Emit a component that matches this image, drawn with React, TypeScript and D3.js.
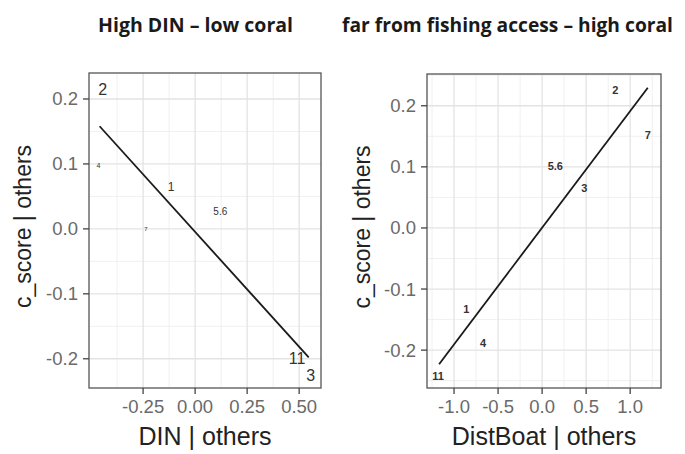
import React from "react";
import * as d3 from "d3";

// ---------- data ----------
const leftTitle = "High DIN \u2013 low coral";
const leftXLabel = "DIN | others";
const leftIds = ["2", "4", "1", "5.6", "7", "11", "3"];
const leftX = [-0.444, -0.464, -0.116, 0.121, -0.237, 0.49, 0.556];
const leftY = [0.214, 0.097, 0.065, 0.026, 0.0, -0.2, -0.225];
const leftLabelSize = [16, 7, 12, 10, 6, 16, 16];
const leftLineX = [-0.459, 0.546];
const leftLineY = [0.158, -0.198];
const leftXTicks = [-0.25, 0, 0.25, 0.5];
const leftXTickLabels = ["-0.25", "0.00", "0.25", "0.50"];
const leftXMinor = [-0.375, -0.125, 0.125, 0.375];
const leftYTicks = [-0.2, -0.1, 0, 0.1, 0.2];
const leftYTickLabels = ["-0.2", "-0.1", "0.0", "0.1", "0.2"];
const leftYMinor = [-0.15, -0.05, 0.05, 0.15];
const leftXDomain = [-0.51, 0.605];
const leftYDomain = [-0.245, 0.24];

const rightTitle = "far from fishing access \u2013 high coral";
const rightXLabel = "DistBoat | others";
const rightIds = ["2", "7", "5.6", "3", "1", "4", "11"];
const rightX = [0.83, 1.2, 0.15, 0.48, -0.86, -0.67, -1.18];
const rightY = [0.226, 0.152, 0.102, 0.066, -0.133, -0.189, -0.243];
const rightLabelSize = [11, 11, 11, 11, 11, 11, 11];
const rightLineX = [-1.17, 1.2];
const rightLineY = [-0.223, 0.2295];
const rightXTicks = [-1, -0.5, 0, 0.5, 1];
const rightXTickLabels = ["-1.0", "-0.5", "0.0", "0.5", "1.0"];
const rightXMinor = [-1.25, -0.75, -0.25, 0.25, 0.75, 1.25];
const rightYTicks = [-0.2, -0.1, 0, 0.1, 0.2];
const rightYTickLabels = ["-0.2", "-0.1", "0.0", "0.1", "0.2"];
const rightYMinor = [-0.25, -0.15, -0.05, 0.05, 0.15, 0.25];
const rightXDomain = [-1.307, 1.35];
const rightYDomain = [-0.262, 0.252];

const yLabel = "c_score | others";

type PanelProps = {
  left: number; right: number; top: number; bottom: number;
  title: string; titleX: number; titleW: number; xLabel: string;
  ids: string[]; xs: number[]; ys: number[]; sizes: number[];
  lineX: number[]; lineY: number[];
  xTicks: number[]; xTickLabels: string[]; xMinor: number[];
  yTicks: number[]; yTickLabels: string[]; yMinor: number[];
  xDomain: number[]; yDomain: number[]; yTitleX: number;
  labelWeight: number;
};

function Panel(p: PanelProps) {
  const x = d3.scaleLinear().domain(p.xDomain).range([p.left, p.right]);
  const y = d3.scaleLinear().domain(p.yDomain).range([p.bottom, p.top]);
  const line = d3.line<number>().x((d) => x(p.lineX[d])).y((d) => y(p.lineY[d]));
  const cx = (p.left + p.right) / 2;
  const cy = (p.top + p.bottom) / 2 - 4;
  const font = "Liberation Sans, Arial, sans-serif";
  return (
    <g>
      <text x={p.titleX} y={32} fontFamily="Open Sans, sans-serif" fontWeight={700} fontSize={19.5}
        textLength={p.titleW} lengthAdjust="spacingAndGlyphs" fill="#1a1a1a">{p.title}</text>
      <rect x={p.left} y={p.top} width={p.right - p.left} height={p.bottom - p.top} fill="#fff" />
      {p.xMinor.map((v, i) => (
        <line key={"xm" + i} x1={x(v)} x2={x(v)} y1={p.top} y2={p.bottom} stroke="#f0f0f0" strokeWidth={1} />
      ))}
      {p.yMinor.map((v, i) => (
        <line key={"ym" + i} y1={y(v)} y2={y(v)} x1={p.left} x2={p.right} stroke="#f0f0f0" strokeWidth={1} />
      ))}
      {p.xTicks.map((v, i) => (
        <line key={"xM" + i} x1={x(v)} x2={x(v)} y1={p.top} y2={p.bottom} stroke="#e3e3e3" strokeWidth={1.3} />
      ))}
      {p.yTicks.map((v, i) => (
        <line key={"yM" + i} y1={y(v)} y2={y(v)} x1={p.left} x2={p.right} stroke="#e3e3e3" strokeWidth={1.3} />
      ))}
      <path d={line([0, 1]) || ""} stroke="#1a1a1a" strokeWidth={1.8} fill="none" />
      {p.ids.map((id, i) => (
        <text key={"l" + i} x={x(p.xs[i])} y={y(p.ys[i])} textAnchor="middle" dominantBaseline="central"
          fontFamily={font} fontSize={p.sizes[i]} fontWeight={p.labelWeight} fill="#333">{id}</text>
      ))}
      <rect x={p.left} y={p.top} width={p.right - p.left} height={p.bottom - p.top} fill="none" stroke="#555" strokeWidth={1.3} />
      {p.xTicks.map((v, i) => (
        <g key={"xt" + i}>
          <line x1={x(v)} x2={x(v)} y1={p.bottom} y2={p.bottom + 6} stroke="#444" strokeWidth={1.3} />
          <text x={x(v)} y={p.bottom + 25} textAnchor="middle" fontFamily={font} fontSize={18.5} fill="#6a6a6a">{p.xTickLabels[i]}</text>
        </g>
      ))}
      {p.yTicks.map((v, i) => (
        <g key={"yt" + i}>
          <line x1={p.left - 6} x2={p.left} y1={y(v)} y2={y(v)} stroke="#444" strokeWidth={1.3} />
          <text x={p.left - 11} y={y(v)} textAnchor="end" dominantBaseline="central" fontFamily={font} fontSize={18.5} fill="#6a6a6a">{p.yTickLabels[i]}</text>
        </g>
      ))}
      <text x={cx} y={p.bottom + 57} textAnchor="middle" fontFamily={font} fontSize={25} fill="#222">{p.xLabel}</text>
      <text transform={`translate(${p.yTitleX},${cy}) rotate(-90)`} textAnchor="middle" dominantBaseline="central"
        fontFamily={font} fontSize={23} fill="#222">{yLabel}</text>
    </g>
  );
}

export default function App() {
  return (
    <svg width={685} height={454} style={{ position: "absolute", left: 0, top: 0, background: "#fff" }}>
      <rect x={0} y={0} width={685} height={454} fill="#fff" />
      <Panel left={89} right={321} top={73} bottom={388} title={leftTitle} titleX={98} titleW={195} xLabel={leftXLabel}
        ids={leftIds} xs={leftX} ys={leftY} sizes={leftLabelSize} lineX={leftLineX} lineY={leftLineY}
        xTicks={leftXTicks} xTickLabels={leftXTickLabels} xMinor={leftXMinor}
        yTicks={leftYTicks} yTickLabels={leftYTickLabels} yMinor={leftYMinor}
        xDomain={leftXDomain} yDomain={leftYDomain} yTitleX={23} labelWeight={400} />
      <Panel left={427} right={661} top={74} bottom={388} title={rightTitle} titleX={342} titleW={331} xLabel={rightXLabel}
        ids={rightIds} xs={rightX} ys={rightY} sizes={rightLabelSize} lineX={rightLineX} lineY={rightLineY}
        xTicks={rightXTicks} xTickLabels={rightXTickLabels} xMinor={rightXMinor}
        yTicks={rightYTicks} yTickLabels={rightYTickLabels} yMinor={rightYMinor}
        xDomain={rightXDomain} yDomain={rightYDomain} yTitleX={362} labelWeight={700} />
    </svg>
  );
}
